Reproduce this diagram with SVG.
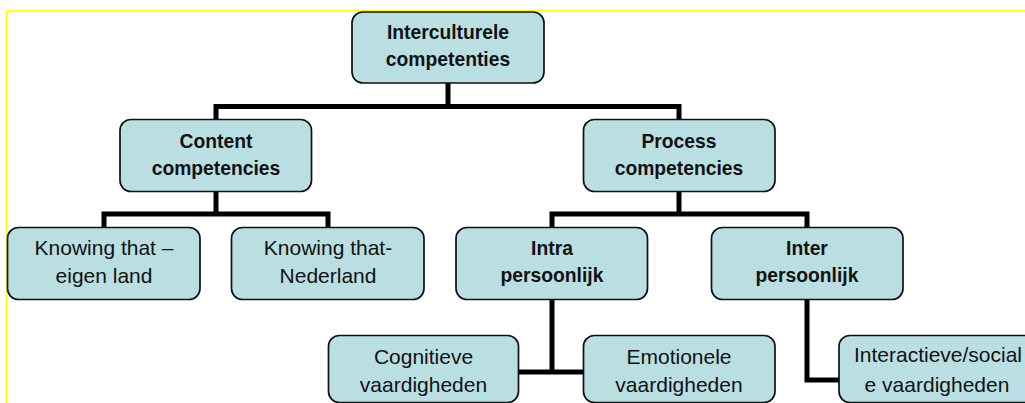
<svg xmlns="http://www.w3.org/2000/svg" width="1025" height="403" viewBox="0 0 1025 403">
<style>
.box{fill:#b9dfe3;stroke:#111;stroke-width:1.7}
.t{font-family:"Liberation Sans",Arial,sans-serif;font-size:21px;fill:#111;text-anchor:middle}
.b{font-weight:bold;font-size:19.3px}
.c{fill:none;stroke:#000;stroke-width:5;stroke-linejoin:miter}
</style>
<rect width="1025" height="403" fill="#fff"/>
<path d="M6.5 403 V10.5 H1025" fill="none" stroke="#ffff00" stroke-width="1.2"/>
<g id="connectors">
<path class="c" d="M448 83 V106.5 M216 119 V106.5 H679 V119"/>
<path class="c" d="M216 191 V214 M104 227 V214 H328 V227"/>
<path class="c" d="M679 191 V214 M552 227 V214 H807 V227"/>
<path class="c" d="M552 299 V372 M518 372 H583"/>
<path class="c" d="M807 299 V380 H839"/>
</g>
<g id="root"><rect class="box" x="352" y="12" width="192" height="71" rx="11"/><text class="t b" x="448" y="38.5">Interculturele</text><text class="t b" x="448" y="65.5">competenties</text></g>
<g id="content"><rect class="box" x="120" y="119.5" width="191.5" height="72" rx="11"/><text class="t b" x="216" y="148">Content</text><text class="t b" x="216" y="175">competencies</text></g>
<g id="process"><rect class="box" x="583.5" y="119.5" width="191.5" height="72" rx="11"/><text class="t b" x="679" y="148">Process</text><text class="t b" x="679" y="175">competencies</text></g>
<g id="eigen"><rect class="box" x="7.5" y="227.5" width="192.5" height="72" rx="11"/><text class="t" x="104" y="255">Knowing that –</text><text class="t" x="104" y="282.5">eigen land</text></g>
<g id="nederland"><rect class="box" x="231.5" y="227.5" width="192.5" height="72" rx="11"/><text class="t" x="328" y="255">Knowing that-</text><text class="t" x="328" y="282.5">Nederland</text></g>
<g id="intra"><rect class="box" x="456" y="227.5" width="191.5" height="72" rx="11"/><text class="t b" x="552" y="255">Intra</text><text class="t b" x="552" y="282">persoonlijk</text></g>
<g id="inter"><rect class="box" x="711.5" y="227.5" width="191.5" height="72" rx="11"/><text class="t b" x="807" y="255">Inter</text><text class="t b" x="807" y="282">persoonlijk</text></g>
<g id="cognitieve"><rect class="box" x="328.5" y="335.5" width="190" height="67" rx="11"/><text class="t" x="423.5" y="363.5">Cognitieve</text><text class="t" x="423.5" y="391.5">vaardigheden</text></g>
<g id="emotionele"><rect class="box" x="583.5" y="335.5" width="191.5" height="67" rx="11"/><text class="t" x="679" y="363.5">Emotionele</text><text class="t" x="679" y="391.5">vaardigheden</text></g>
<g id="interactieve"><rect class="box" x="839" y="335.5" width="200" height="67" rx="11"/><text class="t" x="938" y="362">Interactieve/social</text><text class="t" x="937" y="391.5">e vaardigheden</text></g>
</svg>
